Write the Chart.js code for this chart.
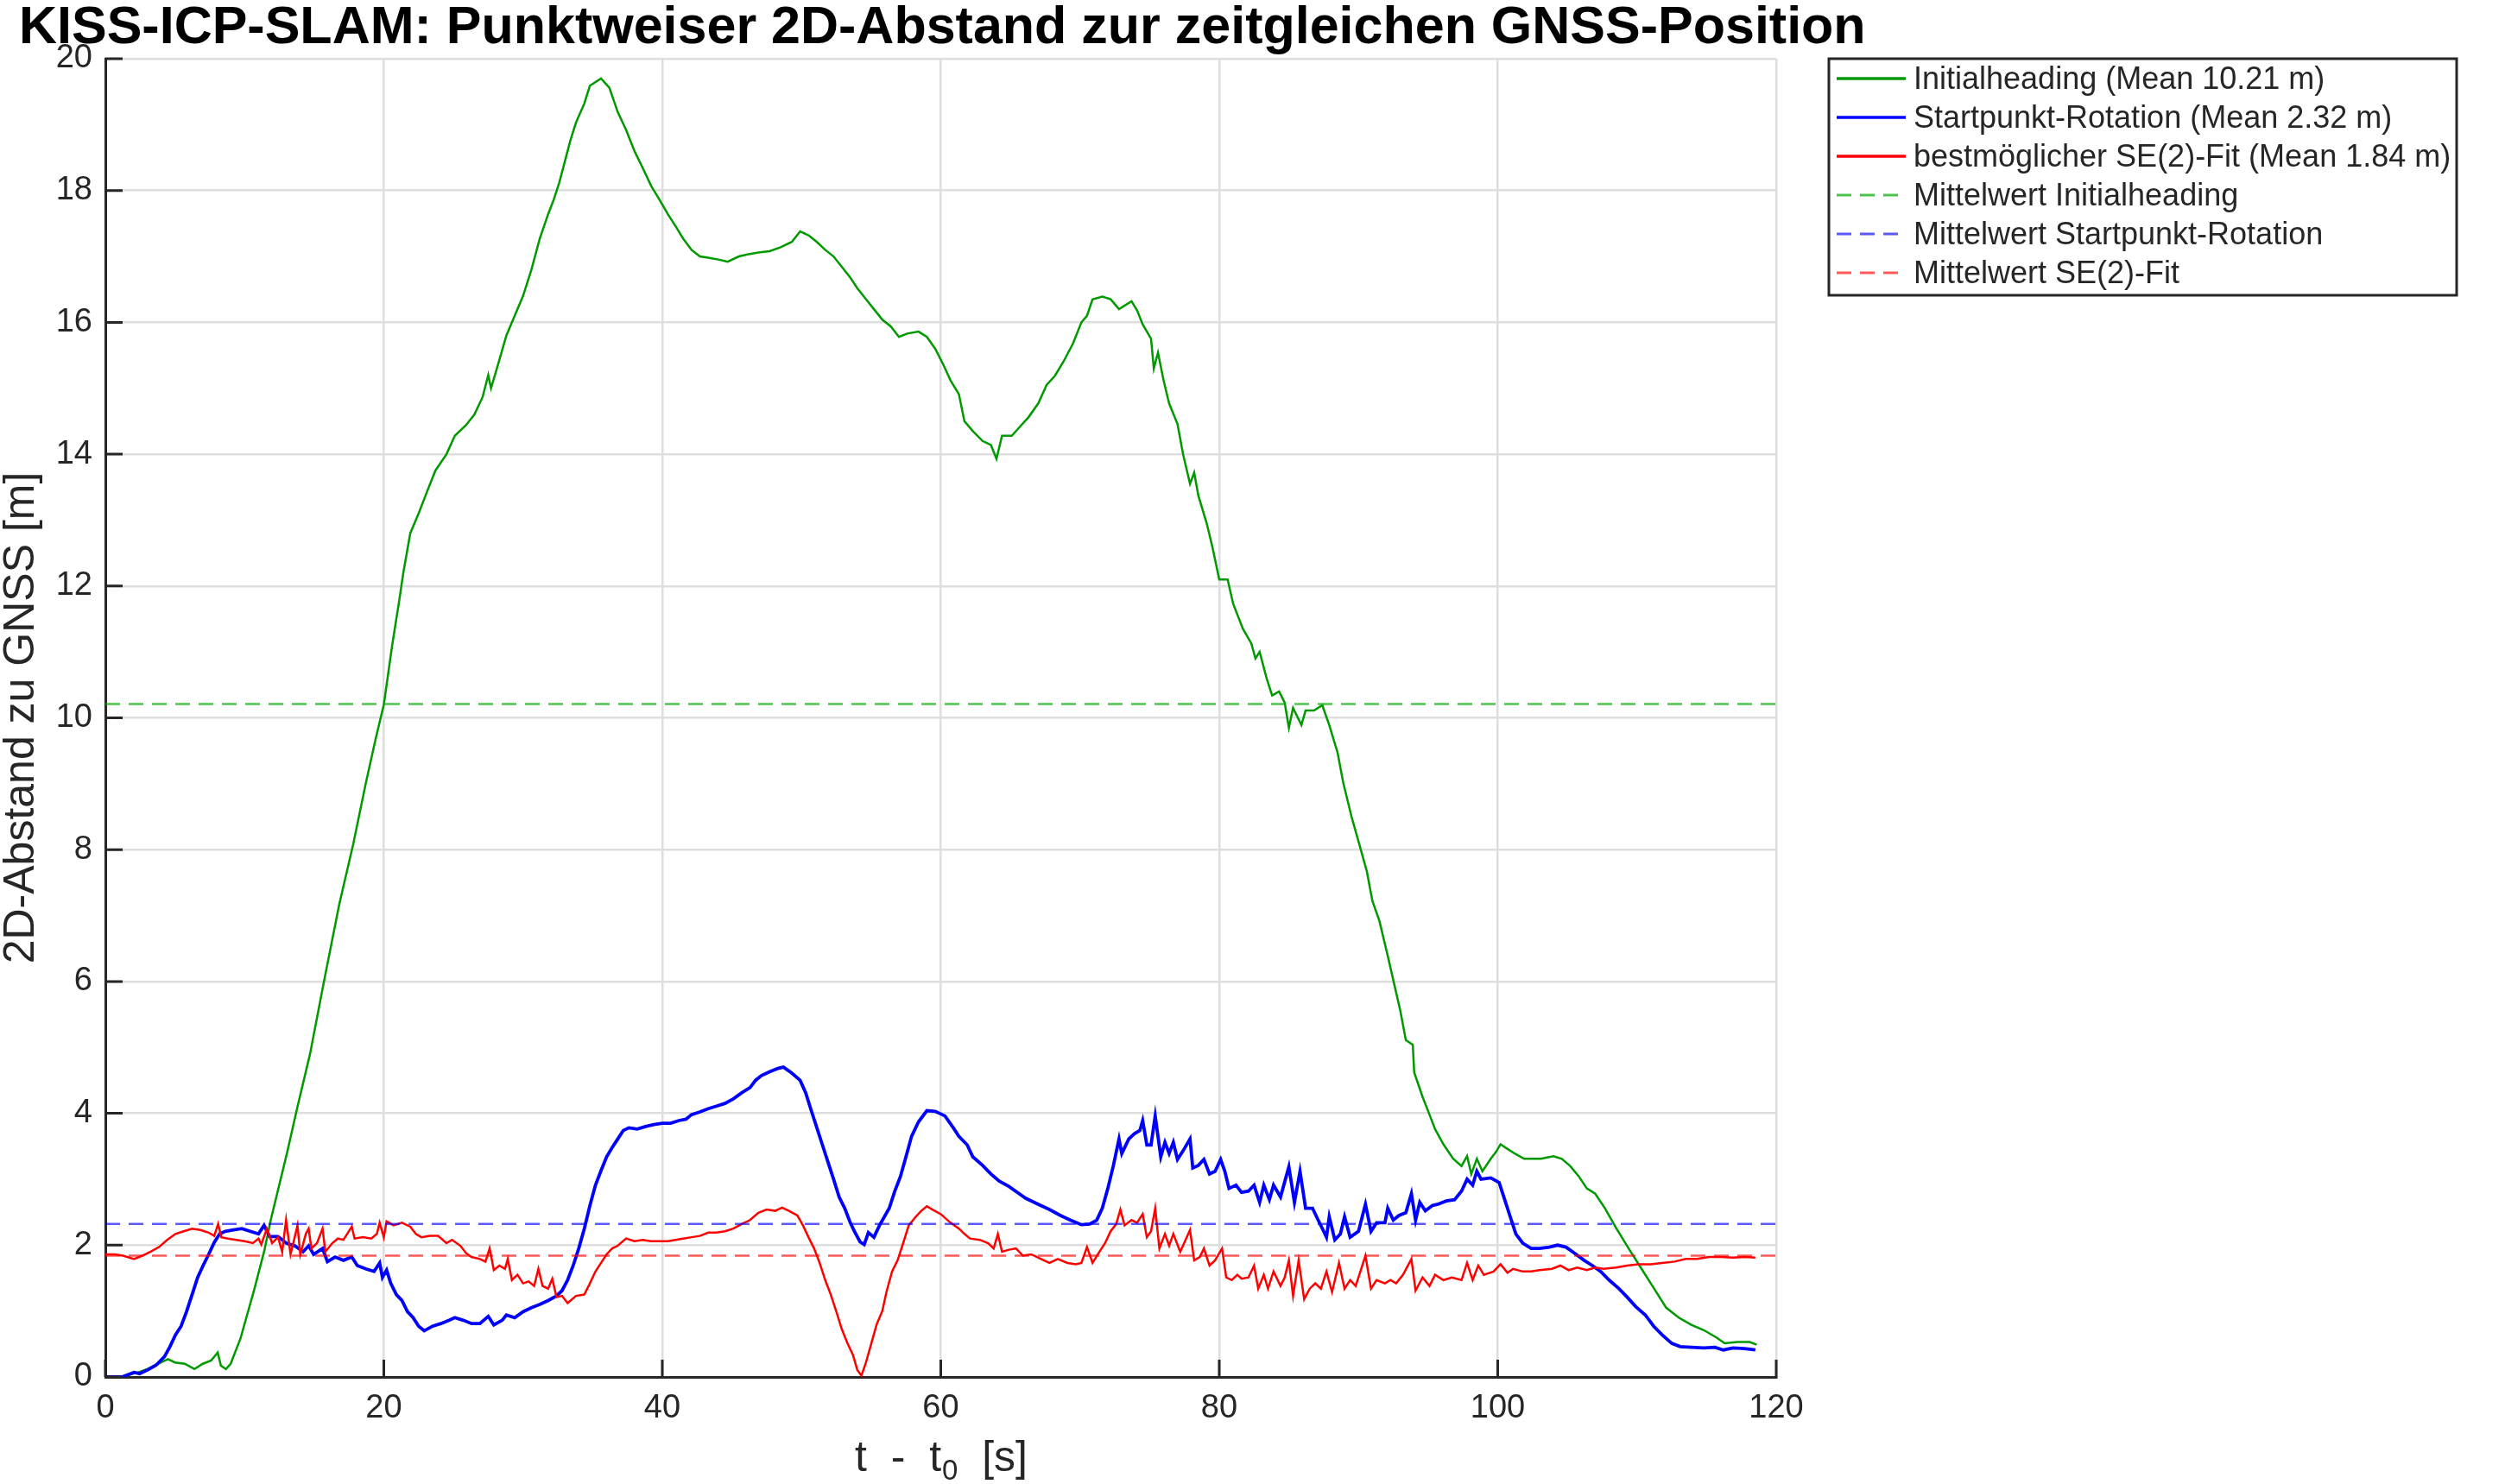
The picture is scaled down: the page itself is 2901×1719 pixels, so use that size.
<!DOCTYPE html>
<html lang="de">
<head>
<meta charset="utf-8">
<title>KISS-ICP-SLAM Abstand zu GNSS</title>
<script src="https://cdn.jsdelivr.net/npm/chart.js"></script>
<style>
  html, body { margin: 0; padding: 0; background: #fff; }
  #wrap { width: 2901px; height: 1719px; }
</style>
</head>
<body>
<div id="wrap"><canvas id="abstand" width="2901" height="1719"></canvas></div>
<script>
const tInitial = [0,1,1.5,2.5,3,3.5,4,4.5,5,5.7,
  6.4,7,7.6,8.07,8.3,8.66,9,9.7,10.7,11.4,
  11.9,13.05,13.8,14.7,15.7,16.8,17.8,18.7,19.4,20,
  20.6,21.1,21.4,21.9,22.5,23.1,23.7,24.5,25.1,25.9,
  26.5,27.1,27.5,27.7,28.3,28.8,29.4,30,30.6,31.2,
  31.8,32.2,32.6,33,33.4,33.8,34.4,34.8,35.6,36.2,
  36.8,37.4,38,38.6,39.2,39.8,40.4,40.95,41.5,42.1,
  42.7,43.3,44.1,44.7,45.5,46.1,46.9,47.7,48.5,49.3,
  49.9,50.5,51.1,51.7,52.3,52.9,53.5,54,54.6,55.2,
  55.8,56.4,57,57.6,58.4,59,59.6,60.2,60.7,61.3,
  61.7,62.3,63,63.6,64,64.4,65.1,65.7,66.3,67,
  67.6,68.2,68.8,69.5,70.1,70.5,70.9,71.6,72.2,72.8,
  73.7,74.1,74.5,75.1,75.3,75.6,76,76.4,77,77.4,
  77.9,78.2,78.5,79.1,79.5,80,80.6,81,81.7,82.3,
  82.6,82.9,83.4,83.8,84.3,84.7,85,85.3,85.9,86.2,
  86.8,87.4,87.9,88.5,88.9,89.5,90.1,90.6,91,91.5,
  92.1,92.5,93,93.4,93.9,94,94.6,95.1,95.5,96.1,
  96.8,97.4,97.8,98.1,98.5,98.9,99.5,99.9,100.2,100.7,
  101.3,101.9,103.1,104,104.6,105.2,105.8,106.4,107,107.7,
  108.5,109.4,110.3,111.2,112.1,113,113.9,114.8,115.7,116.3,
  117.2,118.1,118.6];
const initialheading = [0,0,0.02,0.08,0.12,0.17,0.22,0.27,0.22,0.2,
  0.12,0.2,0.25,0.37,0.17,0.12,0.2,0.58,1.33,1.9,
  2.4,3.4,4.1,4.9,6,7.17,8.08,9,9.67,10.2,
  11.1,11.77,12.2,12.8,13.1,13.43,13.75,14,14.28,14.44,
  14.6,14.87,15.2,15,15.43,15.8,16.1,16.4,16.8,17.27,
  17.64,17.86,18.12,18.44,18.76,19.03,19.32,19.59,19.7,19.56,
  19.19,18.92,18.6,18.34,18.07,17.86,17.64,17.46,17.27,17.1,
  17,16.98,16.95,16.92,17,17.03,17.06,17.08,17.14,17.22,
  17.38,17.32,17.22,17.1,17,16.84,16.68,16.52,16.36,16.2,
  16.04,15.94,15.78,15.83,15.86,15.78,15.6,15.35,15.12,14.91,
  14.5,14.35,14.2,14.14,13.93,14.28,14.28,14.42,14.56,14.77,
  15.05,15.19,15.4,15.68,16,16.1,16.35,16.39,16.35,16.2,
  16.32,16.18,15.97,15.75,15.3,15.54,15.12,14.77,14.46,14,
  13.55,13.72,13.37,12.95,12.6,12.1,12.1,11.73,11.35,11.13,
  10.9,11,10.6,10.34,10.4,10.23,9.85,10.15,9.89,10.11,
  10.11,10.19,9.89,9.47,9.02,8.5,8.05,7.67,7.22,6.92,
  6.39,6.02,5.56,5.11,5.04,4.62,4.25,3.98,3.76,3.53,
  3.31,3.2,3.35,3.08,3.31,3.12,3.31,3.42,3.53,3.46,
  3.38,3.31,3.31,3.35,3.31,3.2,3.05,2.86,2.78,2.56,
  2.26,1.95,1.65,1.35,1.05,0.9,0.79,0.71,0.6,0.51,
  0.53,0.53,0.49];

const tRotation = [0,1.2,2.06,2.46,3.06,3.65,4.25,4.64,5.04,5.44,
  5.83,6.23,6.63,7.02,7.42,7.82,8.21,8.61,9.21,9.8,
  10.4,11,11.4,11.8,12.4,13,13.6,14.2,14.6,14.96,
  15.6,15.95,16.5,17.1,17.7,18.1,18.7,19.3,19.7,19.9,
  20.2,20.5,20.9,21.3,21.7,22.1,22.5,22.9,23.5,24.1,
  24.7,25.1,25.7,26.3,26.9,27.5,27.9,28.5,28.8,29.4,
  30,30.6,31.2,31.8,32.4,32.8,33.2,33.6,34,34.4,
  34.8,35.2,35.6,36,36.4,36.8,37.2,37.6,38.2,38.8,
  39.4,40,40.6,41.2,41.7,42.1,42.7,43.3,43.9,44.5,
  45.1,45.7,46.3,46.7,47.1,47.7,48.3,48.7,49.3,49.9,
  50.3,50.7,51.1,51.5,51.9,52.3,52.7,53.1,53.5,53.8,
  54.2,54.5,54.8,55.2,55.6,56.3,56.7,57.1,57.5,57.9,
  58.4,59,59.6,60.3,60.9,61.3,61.9,62.3,63,63.6,
  64.2,64.9,65.5,66.1,67,67.8,68.6,69.3,70.1,70.7,
  71.2,71.6,72,72.4,72.8,73,73.5,73.9,74.3,74.5,
  74.8,75.1,75.4,75.8,76.1,76.4,76.7,77,77.4,77.9,
  78.1,78.5,78.9,79.3,79.7,80.1,80.4,80.7,81.2,81.6,
  82.1,82.5,82.9,83.2,83.6,83.9,84.4,85,85.4,85.8,
  86.2,86.7,87.1,87.5,87.7,87.9,88.3,88.7,89,89.4,
  90,90.5,90.9,91.3,91.9,92.1,92.5,92.9,93.4,93.8,
  94.1,94.4,94.8,95.3,95.7,96.3,96.9,97.4,97.8,98.2,
  98.5,98.8,99.5,100.1,100.5,100.9,101.3,101.8,102.4,103,
  103.7,104.3,104.9,105.5,106.2,106.8,107.4,108,108.7,109.3,
  109.9,110.6,111.2,111.8,112.5,113.1,113.9,114.8,115.6,116.2,
  116.9,117.7,118.5];
const startpunktRotation = [0,0,0.07,0.05,0.11,0.18,0.31,0.46,0.64,0.77,
  0.99,1.25,1.51,1.69,1.86,2.04,2.17,2.21,2.23,2.25,
  2.21,2.17,2.3,2.13,2.13,2.03,1.99,1.9,1.99,1.86,
  1.95,1.75,1.82,1.77,1.82,1.69,1.64,1.6,1.73,1.51,
  1.62,1.42,1.25,1.16,0.99,0.9,0.77,0.7,0.77,0.81,
  0.86,0.9,0.86,0.81,0.81,0.92,0.79,0.86,0.94,0.9,
  0.99,1.05,1.1,1.16,1.23,1.31,1.47,1.69,1.95,2.25,
  2.6,2.91,3.13,3.34,3.48,3.61,3.74,3.78,3.76,3.8,
  3.83,3.85,3.85,3.89,3.91,3.98,4.02,4.07,4.11,4.15,
  4.22,4.31,4.39,4.5,4.57,4.63,4.68,4.7,4.61,4.5,
  4.31,4.04,3.78,3.52,3.26,3,2.73,2.56,2.34,2.21,
  2.05,2.01,2.19,2.12,2.3,2.56,2.82,3.04,3.34,3.65,
  3.87,4.04,4.03,3.96,3.78,3.65,3.52,3.34,3.21,3.08,
  2.97,2.89,2.8,2.71,2.62,2.54,2.45,2.38,2.31,2.32,
  2.38,2.56,2.86,3.21,3.61,3.39,3.61,3.69,3.74,3.89,
  3.52,3.52,3.96,3.34,3.56,3.39,3.56,3.3,3.43,3.61,
  3.17,3.21,3.3,3.08,3.12,3.3,3.12,2.86,2.91,2.8,
  2.82,2.91,2.65,2.91,2.69,2.91,2.73,3.19,2.65,3.12,
  2.56,2.56,2.38,2.21,2.12,2.43,2.08,2.17,2.43,2.12,
  2.21,2.62,2.21,2.34,2.34,2.56,2.38,2.45,2.49,2.78,
  2.38,2.65,2.52,2.6,2.62,2.67,2.69,2.82,3,2.91,
  3.12,3,3.02,2.95,2.69,2.43,2.17,2.03,1.95,1.95,
  1.97,2,1.97,1.88,1.77,1.69,1.6,1.47,1.34,1.21,
  1.07,0.94,0.77,0.64,0.51,0.46,0.45,0.44,0.45,0.41,
  0.44,0.43,0.41];

const tFit = [0,0.67,1.27,2.06,2.66,3.25,3.85,4.44,5.04,5.63,
  6.23,6.83,7.42,7.82,8.1,8.33,8.8,9.4,10,10.6,
  11,11.2,11.6,11.98,12.4,12.7,12.98,13.3,13.6,13.8,
  14,14.4,14.6,14.8,15.2,15.6,15.8,16.3,16.7,17.1,
  17.7,17.9,18.5,19.1,19.5,19.7,20,20.2,20.7,21.3,
  21.9,22.3,22.7,23.3,23.9,24.5,24.9,25.5,25.9,26.3,
  26.9,27.3,27.6,27.9,28.3,28.7,28.9,29.2,29.6,30,
  30.4,30.8,31.1,31.4,31.8,32.1,32.4,32.8,33.2,33.8,
  34.4,34.8,35.2,35.6,36,36.4,36.8,37.4,38,38.6,
  39.2,39.8,40.4,40.95,41.5,42.1,42.7,43.3,43.9,44.5,
  45.1,45.7,46.3,46.9,47.5,48.1,48.6,49.1,49.7,50.1,
  50.5,50.9,51.3,51.7,52.1,52.5,52.9,53.3,53.7,54,
  54.3,54.6,55,55.4,55.8,56.1,56.5,56.9,57.3,57.7,
  58.2,58.6,59,59.4,60,60.7,61.3,61.7,62.1,62.8,
  63.4,63.8,64.1,64.4,64.9,65.4,65.9,66.5,67.2,67.8,
  68.4,69.1,69.7,70.1,70.5,70.9,71.4,71.8,72.2,72.6,
  72.9,73.2,73.7,74.1,74.5,74.8,75.1,75.4,75.7,76.1,
  76.4,76.7,77.2,77.9,78.2,78.6,78.9,79.3,79.7,80.2,
  80.5,80.9,81.3,81.6,82.1,82.5,82.8,83.2,83.5,83.9,
  84.4,84.7,85,85.3,85.7,86.1,86.5,86.9,87.3,87.7,
  88.1,88.6,89,89.4,89.8,90.5,90.9,91.3,91.9,92.3,
  92.7,93.2,93.8,94.1,94.6,95.1,95.5,96.1,96.7,97.4,
  97.8,98.2,98.6,99,99.7,100.2,100.7,101.1,101.8,102.4,
  103,103.9,104.5,105.1,105.7,106.4,107,107.6,108.5,109.3,
  110.1,111,111.8,112.7,113.5,114.3,115.2,116,116.9,117.7,
  118.5];
const se2Fit = [1.86,1.86,1.84,1.79,1.84,1.9,1.97,2.08,2.17,2.21,
  2.25,2.23,2.19,2.14,2.32,2.12,2.1,2.08,2.06,2.03,
  2.1,2.01,2.25,2.03,2.12,1.9,2.38,1.86,2.12,2.3,
  1.86,2.17,2.25,1.95,2.03,2.25,1.9,2.03,2.1,2.08,
  2.28,2.1,2.12,2.1,2.17,2.34,2.12,2.36,2.3,2.34,
  2.28,2.17,2.12,2.14,2.14,2.03,2.08,1.99,1.88,1.82,
  1.79,1.75,1.95,1.62,1.69,1.64,1.79,1.47,1.55,1.42,
  1.45,1.38,1.64,1.38,1.34,1.49,1.21,1.23,1.12,1.23,
  1.25,1.42,1.6,1.73,1.86,1.95,1.99,2.1,2.06,2.08,
  2.06,2.06,2.06,2.08,2.1,2.12,2.14,2.19,2.19,2.21,
  2.25,2.32,2.38,2.49,2.54,2.52,2.57,2.52,2.45,2.3,
  2.12,1.95,1.73,1.47,1.25,0.99,0.72,0.51,0.33,0.11,
  0.02,0.2,0.5,0.8,1,1.29,1.6,1.77,2.03,2.3,
  2.43,2.52,2.59,2.54,2.47,2.34,2.25,2.17,2.1,2.08,
  2.03,1.95,2.17,1.9,1.93,1.95,1.84,1.86,1.79,1.73,
  1.79,1.73,1.71,1.73,1.97,1.73,1.9,2.03,2.21,2.32,
  2.54,2.3,2.38,2.34,2.47,2.12,2.21,2.56,1.95,2.17,
  1.99,2.17,1.9,2.23,1.77,1.82,1.95,1.69,1.77,1.95,
  1.51,1.47,1.55,1.49,1.51,1.69,1.34,1.55,1.34,1.6,
  1.38,1.51,1.77,1.23,1.77,1.18,1.34,1.42,1.34,1.6,
  1.29,1.73,1.34,1.47,1.38,1.84,1.34,1.47,1.42,1.47,
  1.42,1.55,1.79,1.31,1.51,1.38,1.55,1.47,1.51,1.47,
  1.73,1.47,1.69,1.55,1.6,1.71,1.58,1.64,1.6,1.6,
  1.62,1.64,1.69,1.62,1.66,1.62,1.66,1.64,1.66,1.69,
  1.71,1.71,1.73,1.75,1.79,1.79,1.82,1.82,1.81,1.82,
  1.81];

// Mittelwerte (Initialheading, Startpunkt-Rotation, SE(2)-Fit)
const mittelwerte = [10.21, 2.32, 1.84];
const xTicks = [0, 20, 40, 60, 80, 100, 120];
const yTicks = [0, 2, 4, 6, 8, 10, 12, 14, 16, 18, 20];

const schrift = '"Liberation Sans", Arial, Helvetica, sans-serif';
const textFarbe = '#262626';

function punkte(t, werte) {
    return t.map((x, i) => ({x: x, y: werte[i]}));
}
function mittelLinie(m) {
    return [{x: xTicks[0], y: m}, {x: xTicks[xTicks.length - 1], y: m}];
}

// Titel, Achsenbeschriftung, Ticks nach innen, Legende
const beschriftung = {
    id: 'beschriftung',
    afterDraw(chart) {
        const {ctx, chartArea: {left, right, top, bottom}, scales: {x, y}} = chart;
        ctx.save();

        // Ticks nach innen
        ctx.strokeStyle = textFarbe;
        ctx.lineWidth = 3;
        ctx.beginPath();
        yTicks.forEach(v => {
            const py = y.getPixelForValue(v);
            ctx.moveTo(left, py); ctx.lineTo(left + 20, py);
        });
        xTicks.forEach(v => {
            const px = x.getPixelForValue(v);
            ctx.moveTo(px, bottom); ctx.lineTo(px, bottom - 20);
        });
        ctx.stroke();

        // Titel
        ctx.fillStyle = '#000';
        ctx.font = 'bold 61px ' + schrift;
        ctx.textAlign = 'left';
        ctx.textBaseline = 'alphabetic';
        ctx.fillText('KISS-ICP-SLAM: Punktweiser 2D-Abstand zur zeitgleichen GNSS-Position', 22, 50);

        // y-Achse
        ctx.fillStyle = textFarbe;
        ctx.save();
        ctx.translate(39, (top + bottom) / 2);
        ctx.rotate(-Math.PI / 2);
        ctx.font = '50px ' + schrift;
        ctx.textAlign = 'center';
        ctx.fillText('2D-Abstand zu GNSS [m]', 0, 0);
        ctx.restore();

        // x-Achse mit tiefgestelltem 0
        const teil1 = 't  -  t', teil2 = '0', teil3 = '  [s]';
        ctx.font = '50px ' + schrift;
        const w1 = ctx.measureText(teil1).width, w3 = ctx.measureText(teil3).width;
        ctx.font = '33px ' + schrift;
        const w2 = ctx.measureText(teil2).width;
        let xs = (left + right) / 2 - (w1 + w2 + w3) / 2;
        const base = 1704;
        ctx.textAlign = 'left';
        ctx.font = '50px ' + schrift;
        ctx.fillText(teil1, xs, base);
        ctx.font = '33px ' + schrift;
        ctx.fillText(teil2, xs + w1 + 1, base + 10);
        ctx.font = '50px ' + schrift;
        ctx.fillText(teil3, xs + w1 + w2 + 1, base);

        // Legende
        const lx = 2118, ly = 68, lw = 727, lh = 274, zeile = 45;
        ctx.fillStyle = '#fff';
        ctx.fillRect(lx, ly, lw, lh);
        ctx.strokeStyle = textFarbe;
        ctx.lineWidth = 3;
        ctx.strokeRect(lx, ly, lw, lh);
        ctx.font = '36px ' + schrift;
        ctx.textBaseline = 'middle';
        chart.data.datasets.forEach((ds, i) => {
            const cy = ly + 23 + i * zeile;
            ctx.strokeStyle = ds.borderColor;
            ctx.lineWidth = ds.borderDash ? 3 : 3.5;
            ctx.setLineDash(ds.borderDash || []);
            ctx.beginPath();
            ctx.moveTo(lx + 9, cy); ctx.lineTo(lx + 89, cy);
            ctx.stroke();
            ctx.setLineDash([]);
            ctx.fillStyle = textFarbe;
            ctx.fillText(ds.label, lx + 98, cy + 2);
        });
        ctx.restore();
    }
};

const ctx = document.getElementById('abstand').getContext('2d');
const myChart = new Chart(ctx, {
    type: 'line',
    data: {
        datasets: [
            {
                label: 'Initialheading (Mean 10.21 m)',
                data: punkte(tInitial, initialheading),
                borderColor: '#009900',
                borderWidth: 2.5,
                order: 3
            }, {
                label: 'Startpunkt-Rotation (Mean 2.32 m)',
                data: punkte(tRotation, startpunktRotation),
                borderColor: '#0000ff',
                borderWidth: 3.8,
                order: 2
            }, {
                label: 'bestmöglicher SE(2)-Fit (Mean 1.84 m)',
                data: punkte(tFit, se2Fit),
                borderColor: '#ff0000',
                borderWidth: 2.5,
                order: 1
            }, {
                label: 'Mittelwert Initialheading',
                data: mittelLinie(mittelwerte[0]),
                borderColor: 'rgba(0,170,0,0.7)',
                borderDash: [17, 10],
                borderWidth: 2.5,
                order: 0
            }, {
                label: 'Mittelwert Startpunkt-Rotation',
                data: mittelLinie(mittelwerte[1]),
                borderColor: 'rgba(0,0,255,0.65)',
                borderDash: [17, 10],
                borderWidth: 2.5,
                order: 0
            }, {
                label: 'Mittelwert SE(2)-Fit',
                data: mittelLinie(mittelwerte[2]),
                borderColor: 'rgba(255,0,0,0.65)',
                borderDash: [17, 10],
                borderWidth: 2.5,
                order: 0
            }
        ]
    },
    options: {
        responsive: false,
        devicePixelRatio: 1,
        animation: false,
        elements: {
            point: { radius: 0 },
            line: { tension: 0, fill: false }
        },
        layout: { padding: { left: 0, top: 68, right: 844, bottom: 0 } },
        scales: {
            x: {
                type: 'linear',
                min: 0,
                max: 120,
                afterBuildTicks: s => { s.ticks = xTicks.map(v => ({value: v})); },
                afterFit: s => { s.height = 124; s.paddingLeft = 0; s.paddingRight = 0; },
                grid: { color: '#dedede', lineWidth: 2.5, drawTicks: false },
                border: { color: textFarbe, width: 3 },
                ticks: {
                    padding: 14,
                    color: textFarbe,
                    maxRotation: 0,
                    autoSkip: false,
                    font: { family: schrift, size: 38 }
                }
            },
            y: {
                min: 0,
                max: 20,
                afterBuildTicks: s => { s.ticks = yTicks.map(v => ({value: v})); },
                afterFit: s => { s.width = 122; s.paddingTop = 0; s.paddingBottom = 0; },
                grid: { color: '#dedede', lineWidth: 2.5, drawTicks: false },
                border: { color: textFarbe, width: 3 },
                ticks: {
                    padding: 15,
                    color: textFarbe,
                    autoSkip: false,
                    font: { family: schrift, size: 38 }
                }
            }
        },
        plugins: {
            legend: { display: false },
            title: { display: false },
            tooltip: { enabled: false }
        }
    },
    plugins: [beschriftung]
});
</script>
</body>
</html>
